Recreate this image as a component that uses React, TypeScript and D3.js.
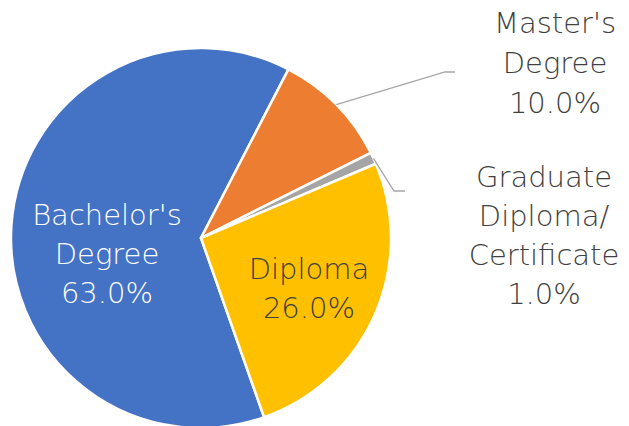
import React from "react";
import * as d3 from "d3";

const categories = ["Bachelor's Degree", "Master's Degree", "Graduate Diploma/ Certificate", "Diploma"];
const values = [63.0, 10.0, 1.0, 26.0];
const colors = ["#4472C4", "#ED7D31", "#A5A5A5", "#FFC000"];

const W = 629, H = 426;
const cx = 201, cy = 238, R = 190;
const startDeg = 160.6;
const FONT = "'DejaVu Sans', sans-serif";

type LabelSpec = { lines: string[]; x: number; y0: number; dy: number; fill: string; leader?: [number, number][] };

export default function App() {
  const pie = d3.pie<number>().sort(null).value((d) => d)
    .startAngle((startDeg * Math.PI) / 180)
    .endAngle((startDeg * Math.PI) / 180 + 2 * Math.PI);
  const arcs = pie(values);
  const arc = d3.arc<d3.PieArcDatum<number>>().innerRadius(0).outerRadius(R);

  const pct = (v: number) => `${v.toFixed(1)}%`;
  const labels: LabelSpec[] = [
    { lines: ["Bachelor's", "Degree", pct(values[0])], x: 107, y0: 225, dy: 39, fill: "#FFFFFF" },
    { lines: ["Master's", "Degree", pct(values[1])], x: 555, y0: 33, dy: 40, fill: "#404040", leader: [[445, 72], [455, 72]] },
    { lines: ["Graduate", "Diploma/", "Certificate", pct(values[2])], x: 544, y0: 187, dy: 39, fill: "#404040", leader: [[394, 191], [405, 191]] },
    { lines: ["Diploma", pct(values[3])], x: 309, y0: 279, dy: 39, fill: "#404040" },
  ];

  return (
    <svg width={W} height={H} style={{ position: "absolute", left: 0, top: 0 }}>
      <rect width={W} height={H} fill="#fff" />
      <g transform={`translate(${cx},${cy})`}>
        {arcs.map((a, i) => (
          <path key={i} d={arc(a) || ""} fill={colors[i]} stroke="#fff" strokeWidth={2.5} strokeLinejoin="round" />
        ))}
      </g>
      {labels.map((l, i) => {
        const a = arcs[i];
        const mid = (a.startAngle + a.endAngle) / 2;
        const sx = cx + Math.sin(mid) * R;
        const sy = cy - Math.cos(mid) * R;
        return (
          <g key={i}>
            {l.leader && (
              <polyline
                points={[[sx, sy], ...l.leader].map((p) => p.join(",")).join(" ")}
                fill="none" stroke="#A6A6A6" strokeWidth={1.3}
              />
            )}
            <text fontFamily={FONT} fontSize={29} fontWeight={300} fill={l.fill} textAnchor="middle">
              {l.lines.map((t, j) => (
                <tspan key={j} x={l.x} y={l.y0 + j * l.dy}>{t}</tspan>
              ))}
            </text>
          </g>
        );
      })}
    </svg>
  );
}
